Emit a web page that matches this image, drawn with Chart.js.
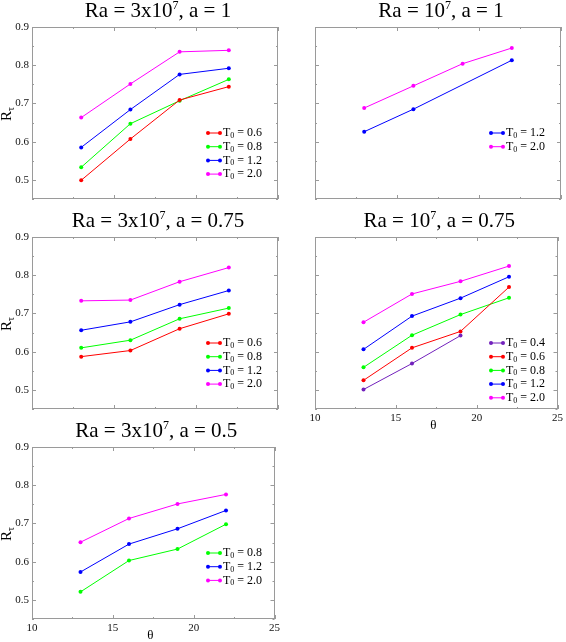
<!DOCTYPE html>
<html>
<head>
<meta charset="utf-8">
<script src="https://cdn.jsdelivr.net/npm/chart.js@4.4.1/dist/chart.umd.min.js"></script>
<style>
  body { margin:0; background:#fff; width:566px; height:642px; position:relative; overflow:hidden; }
  canvas { position:absolute; }
  #warm { position:absolute; left:-999px; top:0; font-family:"Liberation Serif"; font-size:20px; }
</style>
</head>
<body>
<div id="warm">Ra = 3x10 θ τ T0</div>
<canvas id="p1" width="283" height="210" style="left:0;top:0"></canvas>
<canvas id="p2" width="283" height="210" style="left:283px;top:0"></canvas>
<canvas id="p3" width="283" height="210" style="left:0;top:210px"></canvas>
<canvas id="p4" width="283" height="225" style="left:283px;top:210px"></canvas>
<canvas id="p5" width="283" height="222" style="left:0;top:420px"></canvas>
<script>
// theta values on the x axis
const theta = [13, 16, 19, 22];
const xMajor = [10, 15, 20, 25];
const xMinor = [12.5, 17.5, 22.5];
const yMajor = [0.5, 0.6, 0.7, 0.8, 0.9];
const yMinor = [0.45, 0.55, 0.65, 0.75, 0.85];

// Ra = 3x10^7, a = 1
const a1_t06 = [0.499, 0.607, 0.709, 0.744];
const a1_t08 = [0.533, 0.647, 0.707, 0.763];
const a1_t12 = [0.585, 0.684, 0.776, 0.792];
const a1_t20 = [0.663, 0.751, 0.835, 0.839];

// Ra = 10^7, a = 1
const b1_t12 = [0.626, 0.685, null, 0.813];
const b1_t20 = [0.688, 0.746, 0.804, 0.845];

// Ra = 3x10^7, a = 0.75
const a75_t06 = [0.587, 0.603, 0.660, 0.699];
const a75_t08 = [0.610, 0.630, 0.686, 0.714];
const a75_t12 = [0.656, 0.678, 0.723, 0.760];
const a75_t20 = [0.733, 0.735, 0.783, 0.820];

// Ra = 10^7, a = 0.75
const b75_t04 = [0.501, 0.569, 0.642, null];
const b75_t06 = [0.525, 0.610, 0.653, 0.769];
const b75_t08 = [0.559, 0.643, 0.697, 0.741];
const b75_t12 = [0.606, 0.693, 0.740, 0.796];
const b75_t20 = [0.677, 0.751, 0.784, 0.824];

// Ra = 3x10^7, a = 0.5
const a5_t08 = [0.521, 0.603, 0.633, 0.698];
const a5_t12 = [0.573, 0.646, 0.686, 0.734];
const a5_t20 = [0.651, 0.713, 0.751, 0.776];

const colors = { '0.4': 'rgb(114,33,188)', '0.6': '#ff0000', '0.8': '#00ff00', '1.2': '#0000ff', '2.0': '#ff00ff' };
const SERIF = '"Liberation Serif", "DejaVu Serif", serif';

const decor = {
  id: 'decor',
  afterDatasetsDraw(chart, args, o) {
    const ctx = chart.ctx, a = chart.chartArea, x = chart.scales.x, y = chart.scales.y;
    ctx.save();
    // frame
    ctx.strokeStyle = '#9a9a9a';
    ctx.lineWidth = 1;
    ctx.strokeRect(Math.round(a.left) + 0.5, Math.round(a.top) + 0.5, Math.round(a.width) - 1, Math.round(a.height) - 1);
    // inward ticks on all sides
    ctx.beginPath();
    const tk = (vals, len) => {
      vals.forEach(v => {
        const py = Math.round(y.getPixelForValue(v)) + 0.5;
        ctx.moveTo(a.left, py); ctx.lineTo(a.left + len, py);
        ctx.moveTo(a.right, py); ctx.lineTo(a.right - len, py);
      });
    };
    const tkx = (vals, len) => {
      vals.forEach(v => {
        const px = Math.round(x.getPixelForValue(v)) + 0.5;
        ctx.moveTo(px, a.bottom); ctx.lineTo(px, a.bottom - len);
        ctx.moveTo(px, a.top); ctx.lineTo(px, a.top + len);
      });
    };
    tk(yMajor, 4); tk(yMinor, 2); tkx(xMajor, 4); tkx(xMinor, 2);
    ctx.stroke();

    // title with superscript
    ctx.fillStyle = '#000';
    ctx.textBaseline = 'alphabetic';
    const big = '21px ' + SERIF, small = '12px ' + SERIF;
    ctx.font = big; const w1 = ctx.measureText(o.title[0]).width, w3 = ctx.measureText(o.title[2]).width;
    ctx.font = small; const w2 = ctx.measureText(o.title[1]).width;
    let tx = (a.left + a.right) / 2 + 3 - (w1 + w2 + w3) / 2;
    const ty = a.top - 10;
    ctx.textAlign = 'left';
    ctx.font = big; ctx.fillText(o.title[0], tx, ty); tx += w1;
    ctx.font = small; ctx.fillText(o.title[1], tx, ty - 8); tx += w2;
    ctx.font = big; ctx.fillText(o.title[2], tx, ty);

    // y title R_tau
    if (o.yTitle) {
      ctx.save();
      ctx.translate(11, (a.top + a.bottom) / 2 + 8);
      ctx.rotate(-Math.PI / 2);
      ctx.font = '15px ' + SERIF;
      ctx.fillText('R', 0, 0);
      const rw = ctx.measureText('R').width;
      ctx.font = '10px ' + SERIF;
      ctx.fillText('τ', rw, 3);
      ctx.restore();
    }
    // x title theta
    if (o.xTitle) {
      ctx.font = '13px ' + SERIF;
      ctx.textAlign = 'center';
      ctx.fillText('θ', (a.left + a.right) / 2 - 3, a.bottom + 20);
    }

    // legend
    const lx = a.left + 176, ly = a.top + 106;
    chart.data.datasets.slice().sort((p, q) => parseFloat(p.t0) - parseFloat(q.t0)).forEach((ds, i) => {
      const yy = ly + i * 13.7;
      ctx.strokeStyle = ds.borderColor; ctx.fillStyle = ds.borderColor;
      ctx.beginPath(); ctx.moveTo(lx, yy); ctx.lineTo(lx + 12, yy); ctx.stroke();
      [lx, lx + 12].forEach(px => { ctx.beginPath(); ctx.arc(px, yy, 2, 0, Math.PI * 2); ctx.fill(); });
      ctx.fillStyle = '#000'; ctx.textAlign = 'left'; ctx.textBaseline = 'middle';
      ctx.font = '12px ' + SERIF;
      let px = lx + 15;
      ctx.fillText('T', px, yy); px += ctx.measureText('T').width;
      ctx.font = '8px ' + SERIF;
      ctx.fillText('0', px, yy + 3); px += ctx.measureText('0').width;
      ctx.font = '12px ' + SERIF;
      ctx.fillText(' = ' + ds.t0, px, yy);
    });
    ctx.restore();
  }
};

function panel(id, title, series, showY, showX, canvasH) {
  const xH = showX ? 14 : 0;
  new Chart(document.getElementById(id), {
    type: 'line',
    data: {
      datasets: series.map(s => ({
        t0: s[0],
        data: theta.map((t, i) => ({ x: t, y: s[1][i] })),
        borderColor: colors[s[0]],
        backgroundColor: colors[s[0]],
        borderWidth: 1,
        pointRadius: 2,
        pointHoverRadius: 2,
        pointBorderWidth: 0,
        spanGaps: true,
        tension: 0
      }))
    },
    options: {
      responsive: false,
      animation: false,
      events: [],
      layout: { padding: { top: 27, left: 0, right: 5, bottom: canvasH - 199 - xH } },
      plugins: {
        legend: { display: false },
        tooltip: { enabled: false },
        decor: { title: title, yTitle: showY, xTitle: showX }
      },
      scales: {
        x: {
          type: 'linear', min: 10, max: 25,
          grid: { display: false, drawTicks: false },
          border: { display: false },
          afterBuildTicks: s => { s.ticks = xMajor.map(v => ({ value: v })); },
          ticks: { display: showX, padding: 3, color: '#111', font: { family: SERIF, size: 11 } },
          afterFit: s => { s.height = xH; }
        },
        y: {
          type: 'linear', min: 0.45, max: 0.9,
          grid: { display: false, drawTicks: false },
          border: { display: false },
          afterBuildTicks: s => { s.ticks = yMajor.map(v => ({ value: v })); },
          ticks: { display: showY, padding: 3, color: '#111', font: { family: SERIF, size: 11 }, callback: v => v.toFixed(1) },
          afterFit: s => { s.width = 32; }
        }
      }
    },
    plugins: [decor]
  });
}

function drawAll() {
  panel('p1', ['Ra = 3x10', '7', ', a = 1'], [['0.6', a1_t06], ['0.8', a1_t08], ['1.2', a1_t12], ['2.0', a1_t20]], true, false, 210);
  panel('p2', ['Ra = 10', '7', ', a = 1'], [['1.2', b1_t12], ['2.0', b1_t20]], false, false, 210);
  panel('p3', ['Ra = 3x10', '7', ', a = 0.75'], [['0.6', a75_t06], ['0.8', a75_t08], ['1.2', a75_t12], ['2.0', a75_t20]], true, false, 210);
  panel('p4', ['Ra = 10', '7', ', a = 0.75'], [['0.4', b75_t04], ['0.6', b75_t06], ['0.8', b75_t08], ['1.2', b75_t12], ['2.0', b75_t20]], false, true, 225);
  panel('p5', ['Ra = 3x10', '7', ', a = 0.5'], [['0.8', a5_t08], ['1.2', a5_t12], ['2.0', a5_t20]], true, true, 222);
}

if (document.fonts && document.fonts.load) {
  Promise.all([document.fonts.load('20px "Liberation Serif"'), document.fonts.load('12px "DejaVu Serif"')])
    .then(drawAll, drawAll);
} else {
  drawAll();
}
</script>
</body>
</html>
